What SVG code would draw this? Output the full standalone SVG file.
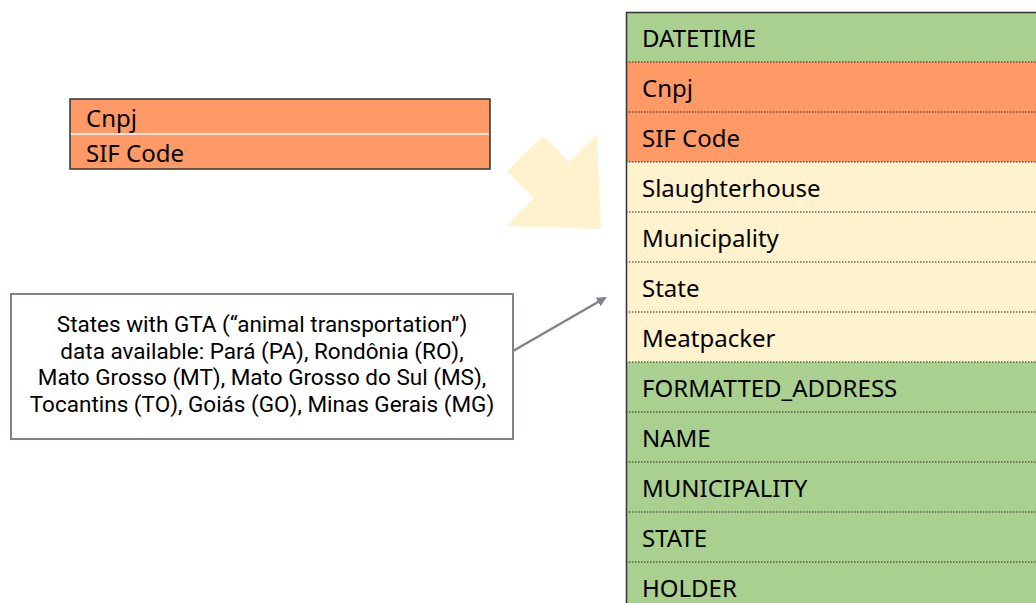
<svg xmlns="http://www.w3.org/2000/svg" width="1036" height="603" viewBox="0 0 1036 603">
<style>
.t{font-family:"Noto Sans","Open Sans","DejaVu Sans",sans-serif;font-size:24px;fill:#000}
.c{font-family:Roboto,"Liberation Sans",sans-serif;font-size:22.5px;fill:#000;text-anchor:middle}
.g{fill:#A9D08E}
.o{fill:#FF9966}
.y{fill:#FFF2CC}
.sep{stroke:#222;stroke-width:1;stroke-dasharray:1.5 1.5}
</style>
<defs>
<marker id="ah" markerWidth="10" markerHeight="10" refX="8" refY="5" orient="auto" markerUnits="userSpaceOnUse">
<path d="M0,0 L10,5 L0,10 z" fill="#877F8C"/>
</marker>
</defs>
<rect width="1036" height="603" fill="#fff"/>
<g id="bigarrow">
<polygon points="507,171 543,136 569,162 597,134 601,229 506,226 534,198" fill="#FFF2CC"/>
</g>
<g id="keybox">
<rect x="70" y="99" width="420" height="70" class="o" stroke="#333" stroke-width="1.5"/>
<line x1="71" y1="134" x2="489" y2="134" stroke="#fff" stroke-width="1.5"/>
<text x="86" y="127" class="t">Cnpj</text>
<text x="86" y="162" class="t">SIF Code</text>
</g>
<g id="callout">
<rect x="11" y="294" width="502" height="145" fill="#fff" stroke="#877F8C" stroke-width="2"/>
<text x="262" y="332" class="c">States with GTA (“animal transportation”)</text>
<text x="262" y="358.5" class="c">data available: Pará (PA), Rondônia (RO),</text>
<text x="262" y="385" class="c">Mato Grosso (MT), Mato Grosso do Sul (MS),</text>
<text x="262" y="411.5" class="c">Tocantins (TO), Goiás (GO), Minas Gerais (MG)</text>
</g>
<g id="connectors">
<line x1="513" y1="351" x2="605" y2="298" stroke="#877F8C" stroke-width="2.5" marker-end="url(#ah)"/>
</g>
<g id="table">
<rect x="626" y="12" width="420" height="50" class="g"/>
<rect x="626" y="62" width="420" height="100" class="o"/>
<rect x="626" y="162" width="420" height="200" class="y"/>
<rect x="626" y="362" width="420" height="250" class="g"/>
<line x1="626" y1="62" x2="1036" y2="62" class="sep"/>
<line x1="626" y1="112" x2="1036" y2="112" class="sep"/>
<line x1="626" y1="162" x2="1036" y2="162" class="sep"/>
<line x1="626" y1="212" x2="1036" y2="212" class="sep"/>
<line x1="626" y1="262" x2="1036" y2="262" class="sep"/>
<line x1="626" y1="312" x2="1036" y2="312" class="sep"/>
<line x1="626" y1="362" x2="1036" y2="362" class="sep"/>
<line x1="626" y1="412" x2="1036" y2="412" class="sep"/>
<line x1="626" y1="462" x2="1036" y2="462" class="sep"/>
<line x1="626" y1="512" x2="1036" y2="512" class="sep"/>
<line x1="626" y1="562" x2="1036" y2="562" class="sep"/>
<path d="M626.5,603 V12.5 H1036" fill="none" stroke="#333" stroke-width="1.5"/>
<text x="642" y="47" class="t">DATETIME</text>
<text x="642" y="97" class="t">Cnpj</text>
<text x="642" y="147" class="t">SIF Code</text>
<text x="642" y="197" class="t">Slaughterhouse</text>
<text x="642" y="247" class="t">Municipality</text>
<text x="642" y="297" class="t">State</text>
<text x="642" y="347" class="t">Meatpacker</text>
<text x="642" y="397" class="t">FORMATTED_ADDRESS</text>
<text x="642" y="447" class="t">NAME</text>
<text x="642" y="497" class="t">MUNICIPALITY</text>
<text x="642" y="547" class="t">STATE</text>
<text x="642" y="597" class="t">HOLDER</text>
</g>
</svg>
